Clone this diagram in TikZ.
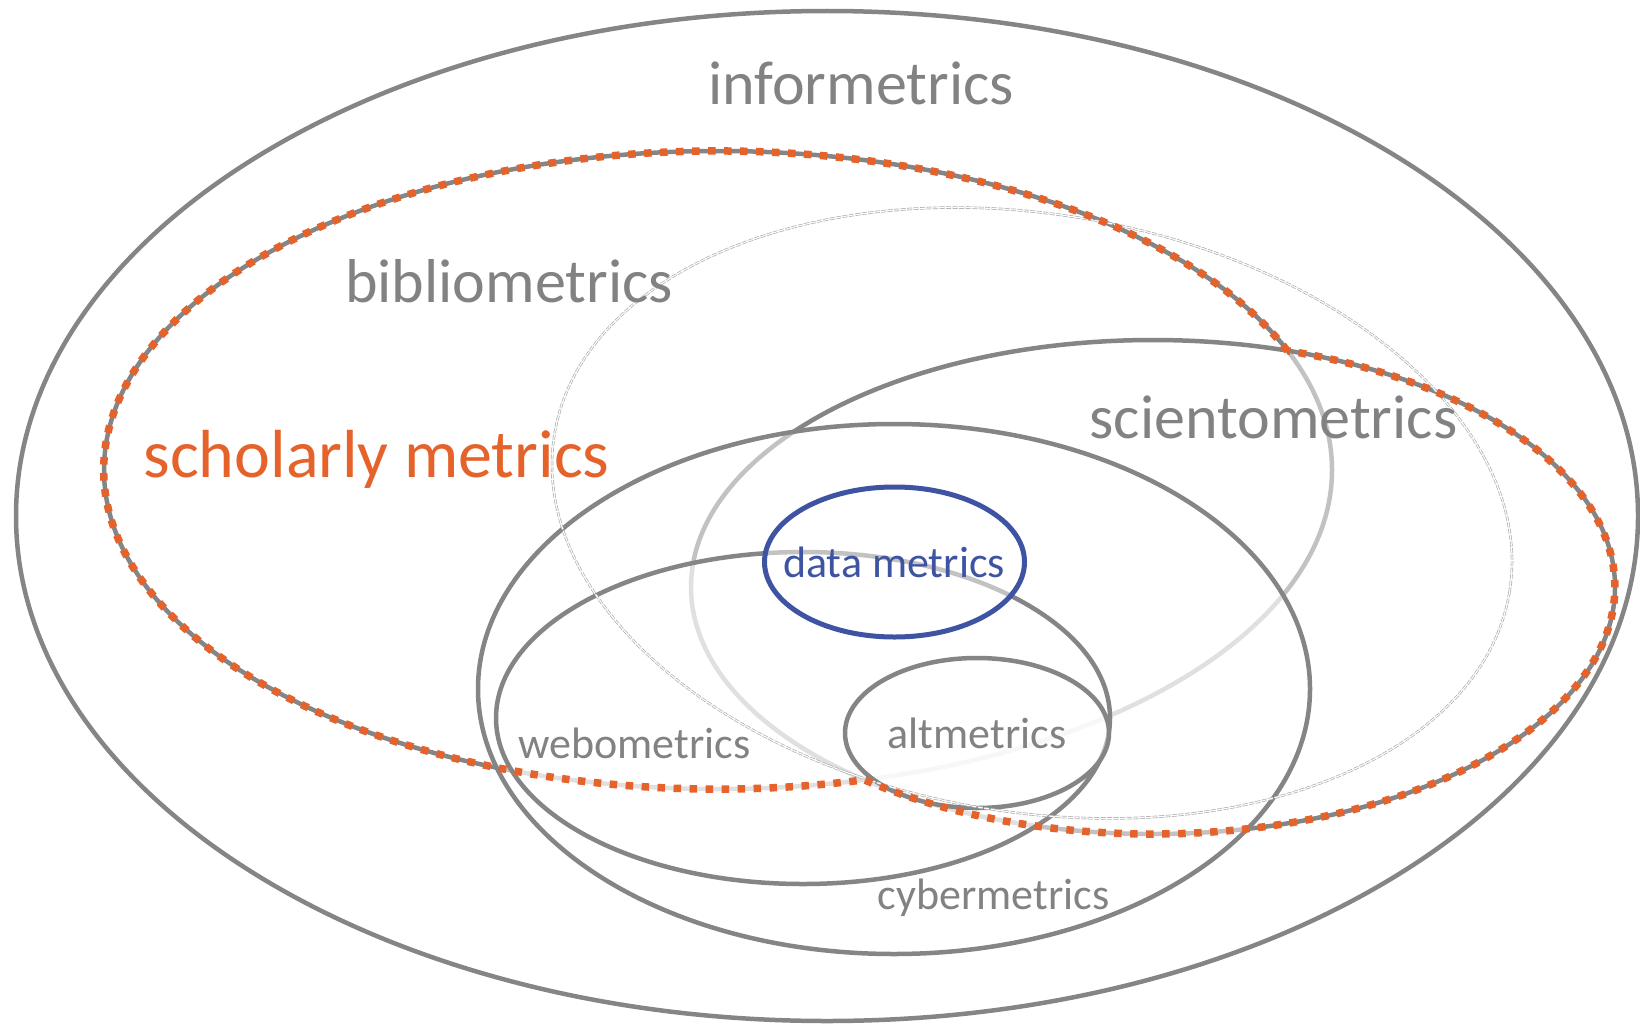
\documentclass[tikz,border=0pt]{standalone}
\usepackage{fontspec}
\setmainfont{Carlito}
\definecolor{linegray}{HTML}{858585}
\definecolor{textgray}{HTML}{828282}
\definecolor{scholarorange}{HTML}{E5622B}
\definecolor{datablue}{HTML}{3E54A3}
\begin{document}
\begin{tikzpicture}[x=1pt, y=-1pt,
  ring/.style={draw=linegray, line width=4.5pt},
  veil/.style={fill=white, fill opacity=0.5},
  ghostring/.style={draw=black!32, line width=0.7pt, double=white,
    double distance=1.1pt, dash pattern=on 5pt off 1.5pt},
  scholarly/.style={draw=scholarorange, line width=7.5pt,
    dash pattern=on 7.5pt off 8.5pt},
  lbl/.style={inner sep=0pt, anchor=base, text=textgray},
  biglbl/.style={lbl, font=\fontsize{62}{62}\selectfont},
  smalllbl/.style={lbl, font=\fontsize{44}{44}\selectfont}]
\useasboundingbox (0,0) rectangle (1640,1025);

% informetrics: the outer field
\draw[ring] (827,516) ellipse [x radius=811pt, y radius=505pt];

% bibliometrics and scientometrics; each translucent fill softens the lines beneath it
\draw[ring, veil] (718,470) ellipse [x radius=614pt, y radius=319pt];
\draw[ring, veil] (1153,587) ellipse [x radius=462pt, y radius=247pt];

% cybermetrics, webometrics, altmetrics
\draw[ring, veil] (894,689) ellipse [x radius=416pt, y radius=265pt];
\draw[ring, veil] (803,718) ellipse [x radius=307pt, y radius=166pt];
\draw[ring, veil] (977,733) ellipse [x radius=132pt, y radius=75pt];

% data metrics
\draw[draw=datablue, line width=5pt, veil] (894.5,562) ellipse [x radius=130pt, y radius=75pt];

% faint tilted outline
\draw[ghostring, rotate around={-9.4:(1032,513)}] (1032,513) ellipse [x radius=484pt, y radius=299pt];

% scholarly metrics: union of the bibliometrics and scientometrics ellipses
\draw[scholarly] (1287.4,350.9)
  arc [start angle=21.93, end angle=283.79, x radius=614pt, y radius=319pt]
  arc [start angle=231.32, end angle=433.08, x radius=462pt, y radius=247pt] -- cycle;

% labels
\node[biglbl] (informetrics) at (861,104) {informetrics};
\node[biglbl] (bibliometrics) at (509,302) {bibliometrics};
\node[biglbl] (scientometrics) at (1273.5,438) {scientometrics};
\node[lbl, font=\fontsize{68}{68}\selectfont, text=scholarorange] (scholarly) at (376.5,477) {scholarly metrics};
\node[smalllbl, text=datablue] (datametrics) at (894,577) {data metrics};
\node[smalllbl] (altmetrics) at (977,748) {altmetrics};
\node[smalllbl] (webometrics) at (634.5,758) {webometrics};
\node[smalllbl] (cybermetrics) at (993.5,909) {cybermetrics};
\end{tikzpicture}
\end{document}
